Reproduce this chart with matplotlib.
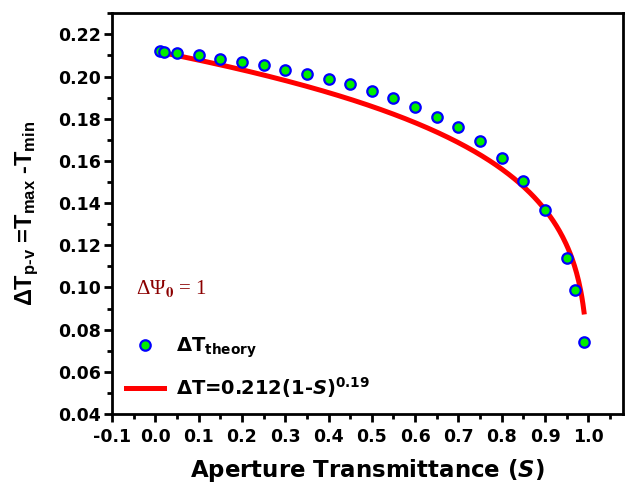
import numpy as np
import matplotlib
matplotlib.use("Agg")
import matplotlib.pyplot as plt
from matplotlib.ticker import MultipleLocator, FormatStrFormatter

plt.rcParams['font.family'] = ['DejaVu Sans']
plt.rcParams['font.weight'] = 'bold'
plt.rcParams['axes.unicode_minus'] = False
plt.rcParams['mathtext.fontset'] = 'custom'
plt.rcParams['mathtext.rm'] = 'Liberation Sans:bold'
plt.rcParams['mathtext.it'] = 'Liberation Sans:bold:italic'
plt.rcParams['mathtext.bf'] = 'Liberation Sans:bold'

# Aperture transmittance and theoretical peak-valley difference
S_theory = [0.01, 0.02, 0.05, 0.10, 0.15, 0.20, 0.25, 0.30, 0.35, 0.40, 0.45,
            0.50, 0.55, 0.60, 0.65, 0.70, 0.75, 0.80, 0.85, 0.90, 0.95, 0.97, 0.99]
dT_theory = [0.212, 0.2118, 0.2113, 0.2100, 0.2085, 0.2070, 0.2053, 0.2033, 0.2013,
             0.1990, 0.1965, 0.1933, 0.1897, 0.1855, 0.1810, 0.1760, 0.1695, 0.1615,
             0.1507, 0.1365, 0.1138, 0.0988, 0.0740]

# Fit: dT = A (1 - S)^p
fit_A = 0.212
fit_p = 0.19
fit_range = (0.01, 0.99)

fig = plt.figure(figsize=(6.27, 4.84), dpi=100)
ax = fig.add_axes([0.1786, 0.1446, 0.815, 0.828])

s_fit = np.linspace(fit_range[0], fit_range[1], 400)
ax.plot(s_fit, fit_A * (1 - s_fit) ** fit_p, color='#ff0000', lw=3.6,
        label=r'ΔT=0.212(1-$\mathbfit{S}$)$^{\mathbf{0.19}}$', zorder=2)
ax.plot(S_theory, dT_theory, ls='none', marker='o', ms=7.5, mfc='#00ee00',
        mec='#0000ff', mew=1.6, label=r'ΔT$_{\mathbf{theory}}$', zorder=3)

ax.set_xlim(-0.1, 1.08)
ax.set_ylim(0.04, 0.23)
ax.xaxis.set_major_locator(MultipleLocator(0.1))
ax.xaxis.set_minor_locator(MultipleLocator(0.05))
ax.yaxis.set_major_locator(MultipleLocator(0.02))
ax.yaxis.set_minor_locator(MultipleLocator(0.01))
ax.xaxis.set_major_formatter(FormatStrFormatter('%.1f'))
ax.yaxis.set_major_formatter(FormatStrFormatter('%.2f'))

for sp in ax.spines.values():
    sp.set_linewidth(2)
ax.tick_params(which='major', direction='out', length=6, width=2, labelsize=12.5)
ax.tick_params(axis='x', which='major', pad=4)
ax.tick_params(axis='y', which='major', pad=2)
ax.tick_params(which='minor', direction='out', length=3.5, width=2)
for lbl in ax.get_xticklabels() + ax.get_yticklabels():
    lbl.set_fontweight('bold')

xl = ax.set_xlabel(r'Aperture Transmittance ($\mathbfit{S}$)', fontsize=16.5,
                   fontweight='bold', labelpad=8)
xl.set_math_fontfamily('dejavusans')
ax.set_ylabel(r'ΔT$_{\mathrm{p\text{-}v}}$ =T$_{\mathrm{max}}$ -T$_{\mathrm{min}}$', fontsize=17,
              fontweight='bold', family='Liberation Sans', labelpad=12)

ax.text(-0.044, 0.0995, r'ΔΨ$_{0}$ = 1', color='#8b0000', fontsize=15,
        family='Liberation Serif', fontweight='normal', va='center',
        math_fontfamily='stix')

handles, labels = ax.get_legend_handles_labels()
leg = ax.legend(handles[::-1], labels[::-1], loc='lower left', frameon=False, fontsize=14,
                handlelength=2.0, handletextpad=0.6, borderaxespad=0.3,
                labelspacing=0.8, bbox_to_anchor=(0.0, 0.0))
for t in leg.get_texts():
    t.set_math_fontfamily('dejavusans')

fig.savefig('out.png', dpi=100)
